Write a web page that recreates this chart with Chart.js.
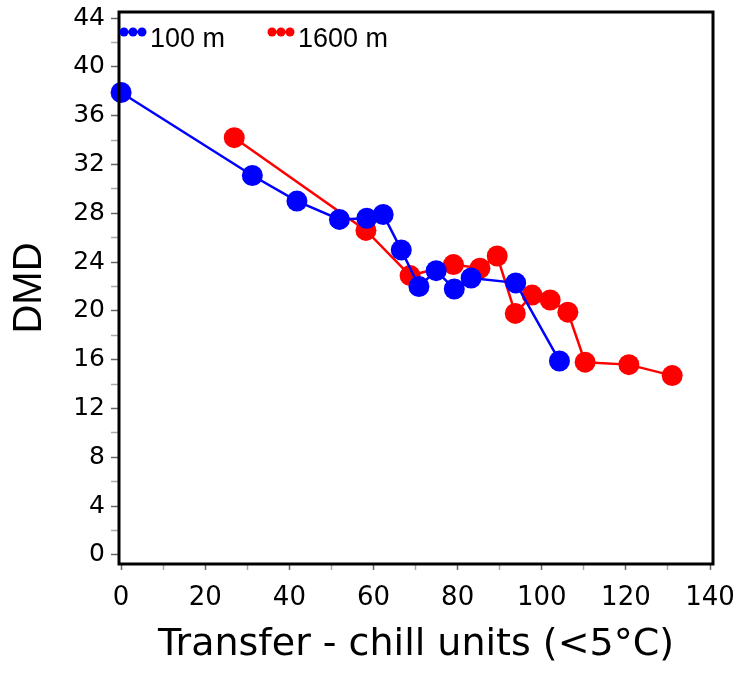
<!DOCTYPE html>
<html>
<head>
<meta charset="utf-8">
<script src="https://cdn.jsdelivr.net/npm/chart.js@4/dist/chart.umd.min.js"></script>
<style>
  body { margin: 0; background: #fff; }
  canvas { display: block; }
</style>
</head>
<body>
<canvas id="dmdChart" width="742" height="673"></canvas>
<script>
// Chill units vs DMD, two elevations
const lowX = [0, 31.2, 41.8, 51.9, 58.4, 62.3, 66.6, 70.8, 74.9, 79.2, 83.2, 93.8, 104.2];
const lowY = [37.9, 31.1, 29.0, 27.5, 27.6, 27.9, 25.0, 22.0, 23.3, 21.8, 22.7, 22.3, 15.9];
const highX = [26.9, 58.2, 68.7, 79.0, 85.3, 89.4, 93.7, 97.7, 102.0, 106.2, 110.3, 120.7, 131.0];
const highY = [34.2, 26.6, 22.9, 23.8, 23.5, 24.5, 19.8, 21.3, 20.9, 19.9, 15.8, 15.6, 14.7];

const xTicks = [0, 20, 40, 60, 80, 100, 120, 140];
const xMinor = [10, 30, 50, 70, 90, 110, 130];
const yTicks = [0, 4, 8, 12, 16, 20, 24, 28, 32, 36, 40, 44];
const yMinor = [2, 6, 10, 14, 18, 22, 26, 30, 34, 38, 42];

const toPoints = (xs, ys) => xs.map((x, i) => ({ x: x, y: ys[i] }));

const buildTicks = (major, minor) => function(scale) {
    scale.ticks = major.concat(minor).sort((a, b) => a - b).map(v => ({ value: v }));
};

// frame around the plot + legend inside the plot area
const framePlugin = {
    id: 'frame',
    afterDatasetsDraw(chart) {
        const { ctx, chartArea: a } = chart;
        ctx.save();
        ctx.strokeStyle = '#000';
        ctx.lineWidth = 3;
        ctx.strokeRect(a.left, a.top, a.right - a.left, a.bottom - a.top);

        const offsets = [1, 149];
        ctx.font = '27px "Liberation Sans", Arial, sans-serif';
        ctx.textBaseline = 'alphabetic';
        chart.data.datasets.forEach((ds, i) => {
            const x0 = a.left + offsets[i];
            const y = a.top + 20;
            ctx.strokeStyle = ds.borderColor;
            ctx.lineWidth = 2.5;
            ctx.beginPath();
            ctx.moveTo(x0, y);
            ctx.lineTo(x0 + 26, y);
            ctx.stroke();
            ctx.fillStyle = ds.backgroundColor;
            [4, 13, 22].forEach(dx => {
                ctx.beginPath();
                ctx.arc(x0 + dx, y, 4.5, 0, Math.PI * 2);
                ctx.fill();
            });
            ctx.fillStyle = '#000';
            ctx.fillText(ds.label, x0 + 30, y + 15);
        });
        ctx.restore();
    }
};

const tickColor = (major) => (c) => major.includes(c.tick.value) ? '#666' : '#aaa';

new Chart(document.getElementById('dmdChart').getContext('2d'), {
    type: 'line',
    data: {
        datasets: [{
            label: '100 m',
            data: toPoints(lowX, lowY),
            borderColor: '#0000ff',
            backgroundColor: '#0000ff',
            borderWidth: 2.5,
            pointRadius: 10.5,
            pointBorderWidth: 0,
            tension: 0,
            clip: false
        }, {
            label: '1600 m',
            data: toPoints(highX, highY),
            borderColor: '#ff0000',
            backgroundColor: '#ff0000',
            borderWidth: 2.5,
            pointRadius: 10.5,
            pointBorderWidth: 0,
            tension: 0,
            clip: false
        }]
    },
    options: {
        responsive: false,
        animation: false,
        events: [],
        layout: { padding: { top: 12, right: 29, left: 0, bottom: 0 } },
        plugins: {
            legend: { display: false },
            tooltip: { enabled: false }
        },
        scales: {
            x: {
                type: 'linear',
                min: -0.5,
                max: 140.7,
                afterBuildTicks: buildTicks(xTicks, xMinor),
                afterFit: (scale) => {
                    scale.height = 109;
                    scale.paddingLeft = 0;
                    scale.paddingRight = 0;
                },
                border: { display: false },
                grid: {
                    drawOnChartArea: false,
                    drawTicks: true,
                    tickLength: 6,
                    tickWidth: 1.5,
                    color: tickColor(xTicks)
                },
                ticks: {
                    padding: 13,
                    maxRotation: 0,
                    autoSkip: false,
                    color: '#000',
                    font: { family: '"DejaVu Sans", sans-serif', size: 26 },
                    callback: (v) => xTicks.includes(v) ? String(v) : ''
                },
                title: {
                    display: true,
                    text: 'Transfer - chill units (<5°C)',
                    color: '#000',
                    font: { family: '"DejaVu Sans", sans-serif', size: 38, lineHeight: 1 },
                    padding: { top: 0, bottom: 9 }
                }
            },
            y: {
                type: 'linear',
                min: -0.74,
                max: 44.5,
                afterBuildTicks: buildTicks(yTicks, yMinor),
                afterFit: (scale) => {
                    scale.width = 119;
                    scale.paddingTop = 0;
                    scale.paddingBottom = 0;
                },
                border: { display: false },
                grid: {
                    drawOnChartArea: false,
                    drawTicks: true,
                    tickLength: 8,
                    tickWidth: 1.5,
                    color: tickColor(yTicks)
                },
                ticks: {
                    padding: 6,
                    autoSkip: false,
                    color: '#000',
                    font: { family: '"DejaVu Sans", sans-serif', size: 25 },
                    callback: (v) => yTicks.includes(v) ? String(v) : ''
                },
                title: {
                    display: true,
                    text: 'DMD',
                    color: '#000',
                    font: { family: '"Liberation Sans", Arial, sans-serif', size: 40, lineHeight: 1 },
                    padding: { top: 10, bottom: 0 }
                }
            }
        }
    },
    plugins: [framePlugin]
});
</script>
</body>
</html>
